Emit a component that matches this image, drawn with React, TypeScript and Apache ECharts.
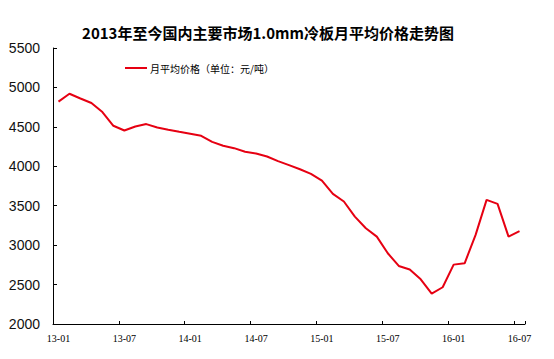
import React, { useEffect, useRef } from "react";
import * as echarts from "echarts";

const TITLE = "2013年至今国内主要市场1.0mm冷板月平均价格走势图";
const SERIES_NAME = "月平均价格（单位：元/吨）";

const MONTHS: string[] = [
  "13-01", "13-02", "13-03", "13-04", "13-05", "13-06", "13-07", "13-08", "13-09", "13-10", "13-11", "13-12",
  "14-01", "14-02", "14-03", "14-04", "14-05", "14-06", "14-07", "14-08", "14-09", "14-10", "14-11", "14-12",
  "15-01", "15-02", "15-03", "15-04", "15-05", "15-06", "15-07", "15-08", "15-09", "15-10", "15-11", "15-12",
  "16-01", "16-02", "16-03", "16-04", "16-05", "16-06", "16-07",
];

const PRICES: number[] = [
  4820, 4920, 4860, 4802, 4688, 4514, 4454, 4505, 4535, 4492, 4463, 4437,
  4412, 4387, 4310, 4260, 4230, 4184, 4162, 4124, 4065, 4015, 3962, 3904,
  3819, 3650, 3553, 3362, 3215, 3108, 2897, 2736, 2692, 2567, 2385, 2466,
  2753, 2770, 3130, 3574, 3523, 3108, 3177,
];

const Y_MIN = 2000;
const Y_MAX = 5500;
const Y_STEP = 500;

export default function App() {
  const ref = useRef<HTMLDivElement>(null);

  useEffect(() => {
    document.body.style.margin = "0";
    if (!ref.current) return;
    const chart = echarts.init(ref.current, null, { renderer: "svg" });
    chart.setOption({
      animation: false,
      backgroundColor: "#ffffff",
      title: {
        text: TITLE,
        left: 263,
        textAlign: "center",
        top: 20,
        textStyle: {
          fontSize: 15,
          fontWeight: "bold",
          color: "#000",
          fontFamily: "'Noto Sans CJK SC', sans-serif",
        },
      },
      legend: {
        left: 120,
        top: 58,
        icon: "rect",
        itemWidth: 22,
        itemHeight: 2,
        itemGap: 5,
        textStyle: {
          fontSize: 10,
          color: "#000",
          fontFamily: "'Noto Sans CJK SC', sans-serif",
          padding: [0, 0, 0, -2],
        },
        data: [SERIES_NAME],
      },
      grid: {
        left: 53,
        right: 29,
        top: 48,
        bottom: 35,
      },
      xAxis: {
        type: "category",
        data: MONTHS,
        boundaryGap: true,
        axisLine: { lineStyle: { color: "#000", width: 1 } },
        axisTick: { show: true, inside: true, length: 3, interval: 5, lineStyle: { color: "#000" } },
        axisLabel: {
          interval: 5,
          fontSize: 10,
          color: "#000",
          margin: 9,
          fontFamily: "'Liberation Serif', serif",
        },
        splitLine: { show: false },
      },
      yAxis: {
        type: "value",
        min: Y_MIN,
        max: Y_MAX,
        interval: Y_STEP,
        axisLine: { show: true, lineStyle: { color: "#000", width: 1 } },
        axisTick: { show: true, inside: true, length: 4, lineStyle: { color: "#000" } },
        axisLabel: {
          fontSize: 14,
          color: "#111",
          margin: 13,
          fontFamily: "'Liberation Sans', Arial, sans-serif",
          formatter: (v: number) => String(v),
        },
        splitLine: { show: false },
      },
      series: [
        {
          name: SERIES_NAME,
          type: "line",
          data: PRICES,
          showSymbol: false,
          symbol: "none",
          lineStyle: { color: "#e60012", width: 2 },
          itemStyle: { color: "#e60012" },
        },
      ],
    });
    return () => chart.dispose();
  }, []);

  return <div ref={ref} style={{ width: 554, height: 359 }} />;
}
